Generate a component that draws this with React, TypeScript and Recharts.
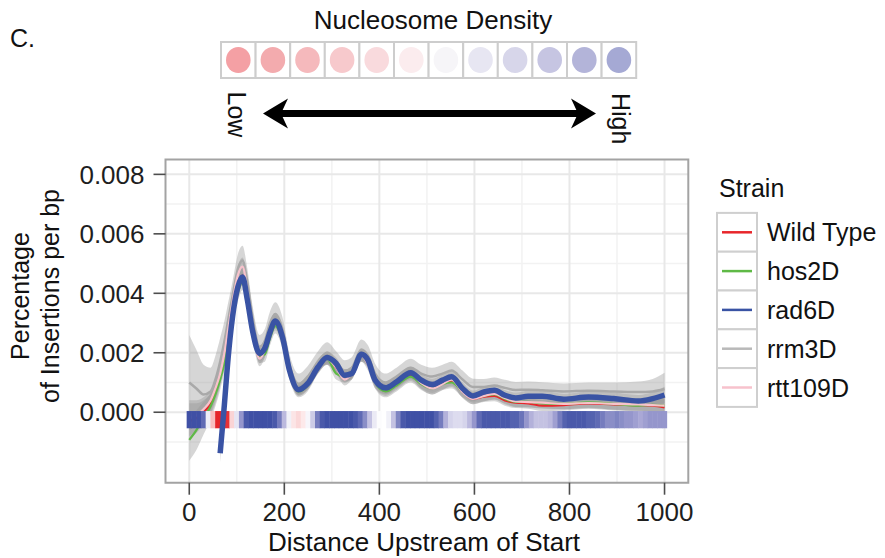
import {
  Area,
  CartesianGrid,
  ComposedChart,
  Line,
  ReferenceArea,
  XAxis,
  YAxis,
} from "recharts";

const FONT = '"Liberation Sans", Arial, Helvetica, sans-serif';

// distance upstream of start (bp)
const positions = [
  0, 15, 30, 45, 55, 65, 73, 82, 91, 102,
  112, 122, 133, 148, 159, 170, 181, 196, 211, 230,
  249, 271, 290, 309, 327, 342, 362, 376, 391, 413,
  436, 466, 488, 511, 533, 552, 575, 597, 620, 642,
  664, 687, 713, 743, 788, 840, 893, 945, 975, 1000,
];

const wildType = [
  -0.0003, -0.0002, 0.0, 0.0003, 0.0007, 0.0012, 0.0017, 0.0025, 0.0033, 0.0041,
  0.0046, 0.004, 0.0029, 0.0019, 0.0021, 0.0026, 0.003, 0.0025, 0.0014, 0.00075,
  0.00095, 0.0015, 0.0018, 0.0015, 0.0012, 0.0013, 0.0019, 0.0017, 0.00105, 0.00075,
  0.00095, 0.00125, 0.001, 0.00085, 0.00098, 0.00105, 0.0007, 0.00045, 0.00052, 0.00055,
  0.0004, 0.00032, 0.0003, 0.00022, 0.00024, 0.0003, 0.00026, 0.00024, 0.00022, 0.00016,
];

const hos2D = [
  -0.00093, -0.0006, -0.0002, 0.0002, 0.0006, 0.0011, 0.0016, 0.0024, 0.0032, 0.004,
  0.0044, 0.0039, 0.0029, 0.0019, 0.00195, 0.0025, 0.0029, 0.0024, 0.0013, 0.0007,
  0.0009, 0.0015, 0.0018, 0.0013, 0.0012, 0.00135, 0.0019, 0.0017, 0.001, 0.0007,
  0.0009, 0.0012, 0.00095, 0.0008, 0.00095, 0.001, 0.0007, 0.0005, 0.00055, 0.0006,
  0.00045, 0.00035, 0.00035, 0.0003, 0.00028, 0.00033, 0.00028, 0.00022, 0.00025, 0.00022,
];

const rad6D = [
  null, null, null, null, null, -0.00138, 0.00008, 0.00187, 0.0032, 0.0042,
  0.00455, 0.0038, 0.00275, 0.00198, 0.00215, 0.0027, 0.00307, 0.00253, 0.0014, 0.00076,
  0.00096, 0.00152, 0.00184, 0.00164, 0.00124, 0.0013, 0.00195, 0.00175, 0.00108, 0.00082,
  0.00102, 0.00133, 0.00108, 0.00093, 0.00108, 0.00119, 0.0008, 0.00055, 0.00068, 0.00074,
  0.00057, 0.00048, 0.00054, 0.00054, 0.00044, 0.00051, 0.00046, 0.00038, 0.00046, 0.00058,
];

const rrm3D = [
  0.001, 0.0008, 0.0006, 0.0007, 0.0011, 0.0017, 0.0023, 0.0031, 0.0039, 0.0048,
  0.0051, 0.0044, 0.0032, 0.0022, 0.0024, 0.003, 0.0033, 0.0028, 0.0016, 0.00095,
  0.0012, 0.0017, 0.002, 0.0017, 0.0014, 0.0015, 0.0021, 0.0019, 0.0013, 0.001,
  0.0012, 0.0015, 0.0013, 0.0012, 0.0013, 0.0014, 0.0011, 0.00085, 0.00085, 0.0009,
  0.00082, 0.00075, 0.00076, 0.00074, 0.0007, 0.00072, 0.0007, 0.00068, 0.0007, 0.00078,
];

const rtt109D = [
  -0.0002, -0.0001, 0.0001, 0.0004, 0.0008, 0.0013, 0.0019, 0.0028, 0.0037, 0.0046,
  0.0049, 0.0041, 0.0028, 0.0018, 0.0021, 0.0028, 0.0031, 0.0025, 0.0014, 0.0008,
  0.001, 0.0016, 0.0018, 0.0015, 0.0011, 0.0013, 0.0019, 0.0016, 0.001, 0.0008,
  0.001, 0.0013, 0.00098, 0.0008, 0.00095, 0.0011, 0.00068, 0.00045, 0.00055, 0.00062,
  0.00048, 0.00036, 0.00034, 0.00032, 0.00028, 0.00031, 0.00028, 0.00026, 0.00024, 0.00022,
];

// half width of the confidence ribbons
const spreadCommon = [
  0.0006, 0.0005, 0.0004, 0.00035, 0.0003, 0.0003, 0.0003, 0.0003, 0.0003, 0.0003,
  0.0003, 0.0003, 0.00028, 0.00025, 0.00025, 0.00025, 0.00025, 0.00025, 0.00022, 0.0002,
  0.0002, 0.0002, 0.0002, 0.0002, 0.0002, 0.0002, 0.0002, 0.0002, 0.0002, 0.0002,
  0.0002, 0.0002, 0.0002, 0.0002, 0.0002, 0.0002, 0.0002, 0.00018, 0.00018, 0.00018,
  0.00018, 0.00018, 0.00018, 0.00018, 0.00018, 0.00018, 0.0002, 0.0002, 0.00022, 0.00028,
];

const spreadHos2D = [
  0.0007, 0.00067, 0.00055, 0.00045, 0.0004, 0.00035, 0.0003, 0.0003, 0.0003, 0.0003,
  0.0003, 0.0003, 0.00028, 0.00025, 0.00025, 0.00025, 0.00025, 0.00025, 0.00022, 0.0002,
  0.0002, 0.0002, 0.0002, 0.0002, 0.0002, 0.0002, 0.0002, 0.0002, 0.0002, 0.0002,
  0.0002, 0.0002, 0.0002, 0.0002, 0.0002, 0.0002, 0.0002, 0.00018, 0.00018, 0.00018,
  0.00018, 0.00018, 0.00018, 0.00018, 0.00018, 0.00018, 0.0002, 0.0002, 0.00022, 0.00028,
];

const spreadRrm3D = [
  0.0016, 0.0013, 0.001, 0.0008, 0.0008, 0.0008, 0.0007, 0.0006, 0.0005, 0.0005,
  0.0005, 0.00045, 0.0004, 0.0004, 0.0004, 0.0004, 0.0004, 0.0004, 0.00035, 0.00035,
  0.00035, 0.00035, 0.00035, 0.00035, 0.00035, 0.00035, 0.00035, 0.00035, 0.00033, 0.0003,
  0.0003, 0.0003, 0.0003, 0.0003, 0.0003, 0.0003, 0.0003, 0.00028, 0.00027, 0.00027,
  0.00027, 0.00027, 0.00027, 0.00027, 0.00027, 0.00028, 0.0003, 0.00035, 0.00042, 0.00055,
];

// nucleosome density strip: tile centres (bp) and density (-1 low .. 1 high)
const stripCenters = [
  0, 10, 20, 30, 40, 50, 60, 70, 80, 90,
  100, 110, 120, 130, 140, 150, 160, 170, 180, 190,
  200, 210, 220, 230, 240, 250, 260, 270, 280, 290,
  300, 310, 320, 330, 340, 350, 360, 370, 380, 390,
  400, 410, 420, 430, 440, 450, 460, 470, 480, 490,
  500, 510, 520, 530, 540, 550, 560, 570, 580, 590,
  600, 610, 620, 630, 640, 650, 660, 670, 680, 690,
  700, 710, 720, 730, 740, 750, 760, 770, 780, 790,
  800, 810, 820, 830, 840, 850, 860, 870, 880, 890,
  900, 910, 920, 930, 940, 950, 960, 970, 980, 990,
  1000,
];

const density = [
  1, 1, 1, 0.85, 0.1, -0.3, -1, -1, -0.95, -0.2,
  0.15, 0.6, 0.95, 1, 1, 1, 1, 1, 0.95, 0.75,
  0.4, 0.08, -0.12, -0.18, -0.1, 0.05, 0.3, 0.75, 0.95, 1,
  1, 1, 1, 1, 1, 0.95, 0.85, 0.65, 0.35, 0.12,
  0.02, 0, 0.08, 0.35, 0.7, 0.95, 1, 1, 1, 1,
  1, 1, 0.9, 0.75, 0.45, 0.25, 0.2, 0.2, 0.25, 0.4,
  0.6, 0.85, 0.95, 0.95, 0.95, 0.95, 0.95, 0.95, 0.9, 0.9,
  0.8, 0.6, 0.45, 0.35, 0.35, 0.35, 0.4, 0.55, 0.75, 0.9,
  0.95, 0.95, 0.95, 0.95, 0.9, 0.9, 0.85, 0.75, 0.65, 0.65,
  0.7, 0.65, 0.6, 0.6, 0.55, 0.5, 0.55, 0.6, 0.6, 0.6,
  0.6,
];

const nucleosomeScale = [
  "#f4a0a4", "#f3abae", "#f5b9bc", "#f7c9cc", "#f9dadd", "#fbecee",
  "#f6f5f8", "#e7e6f2", "#d7d6ea", "#c6c5e2", "#b3b4d9", "#a5a9d4",
];

const strains = ["Wild Type", "hos2D", "rad6D", "rrm3D", "rtt109D"];
const strainColors = ["#e8262b", "#5fb946", "#3953a4", "#b9b9b9", "#f7c2cc"];

const xTicks = [0, 200, 400, 600, 800, 1000];
const xMinor = [100, 300, 500, 700, 900];
const yTicks = [0, 0.002, 0.004, 0.006, 0.008];
const yMinor = [-0.001, 0.001, 0.003, 0.005, 0.007];
const xDomain = [-50, 1050];
const yDomain = [-0.00237, 0.0085];
const stripBottom = -0.00054;
const stripTop = 0.00004;

const band = (v: number | null, s: number) => (v == null ? null : [v - s, v + s]);

const rows = positions.map((x, i) => ({
  x,
  wt: wildType[i],
  wtBand: band(wildType[i], spreadCommon[i]),
  hos: hos2D[i],
  hosBand: band(hos2D[i], spreadHos2D[i]),
  rad: rad6D[i],
  radBand: band(rad6D[i], spreadCommon[i]),
  rrm: rrm3D[i],
  rrmBand: band(rrm3D[i], spreadRrm3D[i]),
  rtt: rtt109D[i],
  rttBand: band(rtt109D[i], spreadCommon[i]),
}));

const lerp = (a: number[], b: number[], t: number) =>
  "rgb(" + a.map((c, k) => Math.round(c + (b[k] - c) * t)).join(",") + ")";

const WHITE = [255, 255, 255];
const RED = [230, 38, 43];
const LAVENDER = [170, 168, 214];
const BLUE = [63, 80, 165];

// diverging scale white in the middle, with a lavender tint on the blue side
function densityColor(d: number) {
  if (d < 0) return lerp(WHITE, RED, -d);
  if (d < 0.5) return lerp(WHITE, LAVENDER, d / 0.5);
  return lerp(LAVENDER, BLUE, (d - 0.5) / 0.5);
}

const tickStyle = { fontSize: 26, fill: "#1e1e1e", fontFamily: FONT };

function XTitle() {
  return (
    <text x={424} y={550.5} textAnchor="middle" fontSize={26} fill="#111" fontFamily={FONT}>
      Distance Upstream of Start
    </text>
  );
}

function YTitle() {
  return (
    <g fontSize={25} fill="#111" fontFamily={FONT} textAnchor="middle">
      <text x={29} y={296} transform="rotate(-90 29 296)">Percentage</text>
      <text x={59} y={296} transform="rotate(-90 59 296)">of Insertions per bp</text>
    </g>
  );
}

function Header() {
  const cellW = 34.6;
  return (
    <svg
      width={885}
      height={558}
      style={{ position: "absolute", left: 0, top: 0, pointerEvents: "none" }}
      fontFamily={FONT}
    >
      <text x={10} y={47} fontSize={25} fill="#111">C.</text>
      <text x={433} y={29} fontSize={26} fill="#111" textAnchor="middle">
        Nucleosome Density
      </text>
      {nucleosomeScale.map((c, i) => (
        <g key={c}>
          <rect x={221 + i * cellW} y={42} width={cellW} height={36} fill="#fff" stroke="#cdcdcd" strokeWidth={2} />
          <ellipse cx={221 + i * cellW + cellW / 2} cy={60} rx={12.3} ry={13} fill={c} />
        </g>
      ))}
      <line x1={280} y1={113.5} x2={579} y2={113.5} stroke="#000" strokeWidth={7} />
      <polygon points="263,113.5 288,98.5 281,113.5 288,128.5" fill="#000" />
      <polygon points="596,113.5 571,98.5 578,113.5 571,128.5" fill="#000" />
      <text x={228} y={91.5} fontSize={25} fill="#111" transform="rotate(90 228 91.5)">Low</text>
      <text x={611.5} y={93} fontSize={25} fill="#111" transform="rotate(90 611.5 93)">High</text>

      <text x={719} y={197} fontSize={25} fill="#111">Strain</text>
      {strains.map((s, i) => {
        const cy = 232.3 + i * 38.8;
        return (
          <g key={s}>
            <rect x={717} y={cy - 19.4} width={40} height={38.8} fill="#fff" stroke="#cfcfcf" strokeWidth={2} />
            <line x1={722} y1={cy} x2={752} y2={cy} stroke={strainColors[i]} strokeWidth={2.5} />
            <text x={767} y={cy + 9} fontSize={25} fill="#111">{s}</text>
          </g>
        );
      })}
    </svg>
  );
}

export default function App() {
  return (
    <div style={{ position: "absolute", left: 0, top: 0, width: 885, height: 558, background: "#fff" }}>
      <ComposedChart
        width={885}
        height={558}
        data={rows}
        margin={{ top: 159.5, right: 196.7, bottom: 0, left: 0 }}
      >
        <CartesianGrid verticalValues={xMinor} horizontalValues={yMinor} stroke="#f2f2f2" strokeWidth={1.5} />
        <CartesianGrid verticalValues={xTicks} horizontalValues={yTicks} stroke="#e8e8e8" strokeWidth={2} />
        <XAxis
          dataKey="x"
          type="number"
          domain={xDomain}
          allowDataOverflow
          ticks={xTicks}
          interval={0}
          height={75.3}
          tickSize={12}
          tickMargin={8}
          axisLine={false}
          tickLine={{ stroke: "#4d4d4d", strokeWidth: 1.6 }}
          tick={tickStyle}
          label={{ content: XTitle }}
        />
        <YAxis
          type="number"
          domain={yDomain}
          allowDataOverflow
          ticks={yTicks}
          interval={0}
          width={165.5}
          tickSize={12}
          tickMargin={9}
          axisLine={false}
          tickLine={{ stroke: "#4d4d4d", strokeWidth: 1.6 }}
          tick={tickStyle}
          tickFormatter={(v: number) => v.toFixed(3)}
          label={{ content: YTitle }}
        />

        <Area dataKey="wtBand" type="monotone" fill="#999999" fillOpacity={0.4} stroke="none" isAnimationActive={false} zIndex={100} />
        <Area dataKey="hosBand" type="monotone" fill="#999999" fillOpacity={0.4} stroke="none" isAnimationActive={false} zIndex={100} />
        <Area dataKey="radBand" type="monotone" fill="#999999" fillOpacity={0.4} stroke="none" isAnimationActive={false} zIndex={100} />
        <Area dataKey="rrmBand" type="monotone" fill="#999999" fillOpacity={0.4} stroke="none" isAnimationActive={false} zIndex={100} />
        <Area dataKey="rttBand" type="monotone" fill="#999999" fillOpacity={0.4} stroke="none" isAnimationActive={false} zIndex={100} />

        <Line dataKey="wt" type="monotone" stroke={strainColors[0]} strokeWidth={2.2} dot={false} activeDot={false} isAnimationActive={false} zIndex={200} />
        <Line dataKey="hos" type="monotone" stroke={strainColors[1]} strokeWidth={2.2} dot={false} activeDot={false} isAnimationActive={false} zIndex={200} />
        <Line dataKey="rrm" type="monotone" stroke="#a9a9a9" strokeWidth={2.5} dot={false} activeDot={false} isAnimationActive={false} zIndex={200} />
        <Line dataKey="rtt" type="monotone" stroke={strainColors[4]} strokeWidth={2.2} dot={false} activeDot={false} isAnimationActive={false} zIndex={200} />

        {stripCenters.map((c, i) => (
          <ReferenceArea
            key={c}
            x1={c - 5.5}
            x2={c + 5.5}
            y1={stripBottom}
            y2={stripTop}
            fill={densityColor(density[i])}
            fillOpacity={1}
            stroke="none"
            zIndex={300}
          />
        ))}

        <Line dataKey="rad" type="monotone" stroke={strainColors[2]} strokeWidth={5.5} dot={false} activeDot={false} isAnimationActive={false} zIndex={400} />

        <ReferenceArea
          x1={xDomain[0]}
          x2={xDomain[1]}
          y1={yDomain[0]}
          y2={yDomain[1]}
          fill="none"
          stroke="#a3a3a3"
          strokeWidth={2}
          zIndex={450}
        />
      </ComposedChart>
      <Header />
    </div>
  );
}
